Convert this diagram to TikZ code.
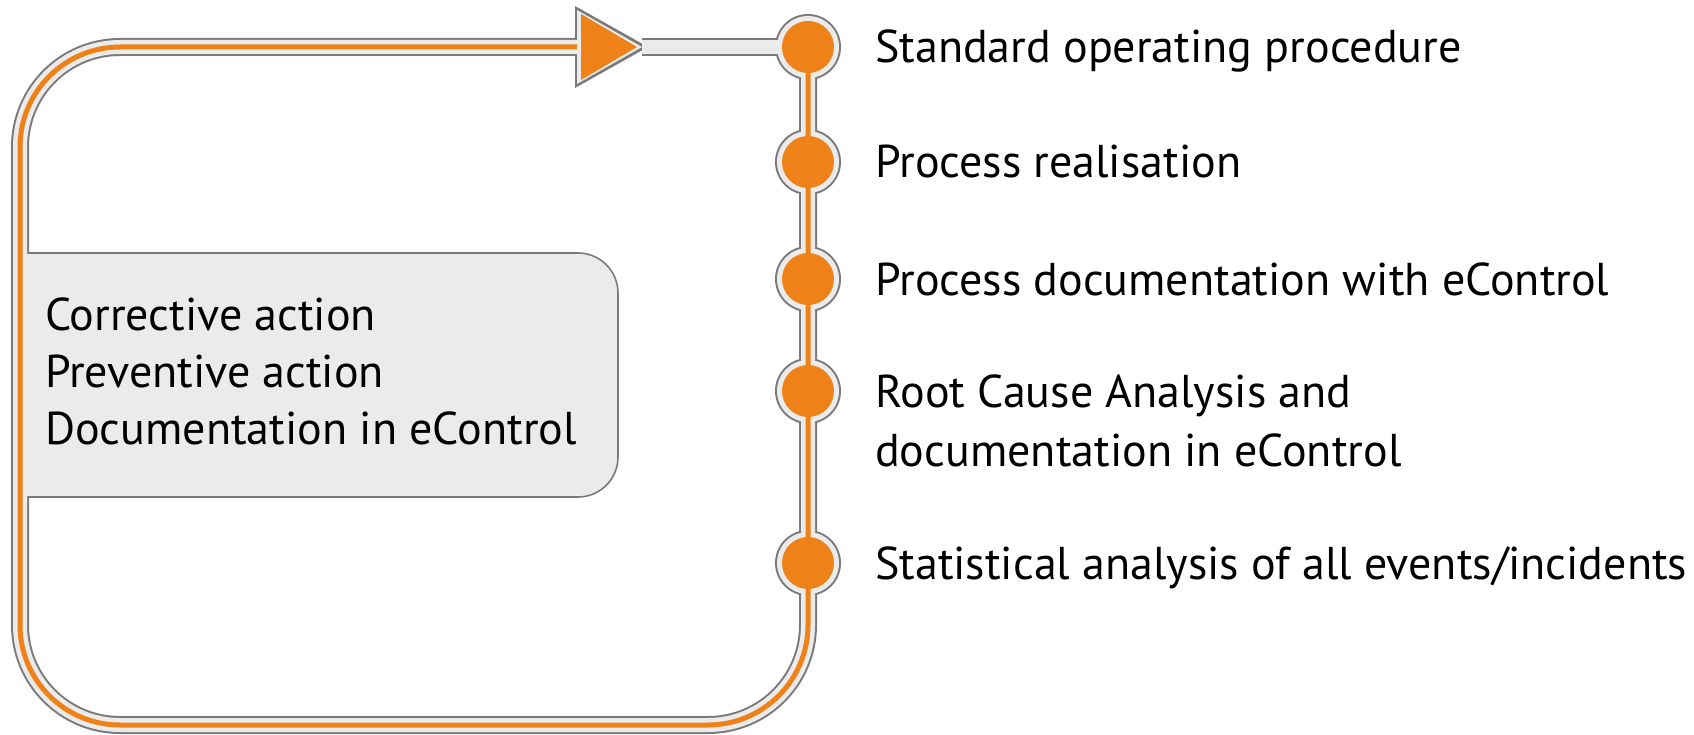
\documentclass[tikz,border=0pt]{standalone}
\usepackage{fontspec}
\setmainfont{PT Sans}
\definecolor{loopgrey}{HTML}{7A7A7A}
\definecolor{loopfill}{HTML}{EBEBEB}
\definecolor{looporange}{HTML}{EF8119}
\tikzset{
  pipe rim/.style={loopgrey, line width=18pt},
  pipe fill/.style={loopfill, line width=14pt},
  pipe core/.style={looporange, line width=5pt},
  act box/.style={draw=loopgrey, fill=loopfill, line width=1.6pt},
  big text/.style={inner sep=0pt, font=\fontsize{46}{57}\selectfont},
  step text/.style={big text, anchor=west, text height=32pt, text depth=0pt},
}
\begin{document}
\begin{tikzpicture}[x=1pt,y=-1pt]
\useasboundingbox (0,0) rectangle (1694,735);
% the loop
\coordinate (tl) at (20,47);
\coordinate (bl) at (20,725);
\coordinate (br) at (808,725);
\coordinate (tail) at (577,47);
\coordinate (tip) at (642,47);
\coordinate (d1) at (808,47);
\coordinate (d2) at (808,162);
\coordinate (d3) at (808,279);
\coordinate (d4) at (808,391);
\coordinate (d5) at (808,563);

% grey rim
\draw[pipe rim, rounded corners=100pt] (tail) -- (tl) -- (bl) -- (br) -- (d1);
\draw[pipe rim] (d1) -- (tip);
\foreach \d in {d1,d2,d3,d4,d5}
  \fill[loopgrey] (\d) circle (33pt);
\fill[loopgrey] (575,6) -- (575,88) -- (648,47) -- cycle;

% action box
\draw[act box, rounded corners=40pt] (20,253) -- (618,253) -- (618,497) -- (20,497);

% light inside
\draw[pipe fill, rounded corners=100pt] (tail) -- (tl) -- (bl) -- (br) -- (d1);
\draw[pipe fill] (d1) -- (tip);
\foreach \d in {d1,d2,d3,d4,d5}
  \fill[loopfill] (\d) circle (31pt);
\fill[loopfill] (577,10) -- (577,84) -- (642,47) -- cycle;

% orange core
\draw[pipe core, rounded corners=100pt] (tail) -- (tl) -- (bl) -- (br) -- (d1);
\foreach \d in {d1,d2,d3,d4,d5}
  \fill[looporange] (\d) circle (26pt);
\fill[looporange] (581,14) -- (581,80) -- (637,47) -- cycle;

% texts
\node[big text, anchor=west, align=left] (acts) at (45,371)
  {Corrective action\\Preventive action\\Documentation in eControl};
\node[step text] (s1) at (875,47) {Standard operating procedure};
\node[step text] (s2) at (875,162) {Process realisation};
\node[step text] (s3) at (875,279) {Process documentation with eControl};
\node[big text, anchor=west, align=left, font=\fontsize{46}{59}\selectfont] (s4) at (875,421)
  {Root Cause Analysis and\\documentation in eControl};
\node[step text] (s5) at (875,563) {Statistical analysis of all events/incidents};
\end{tikzpicture}
\end{document}
